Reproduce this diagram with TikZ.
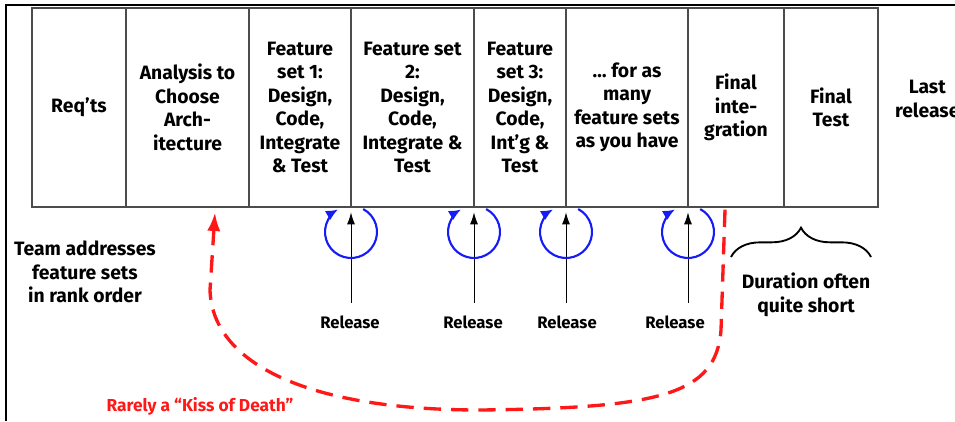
\documentclass[tikz,border=0pt]{standalone}
\usepackage{fontspec}
\setmainfont{Fira Sans}
\usetikzlibrary{positioning,arrows.meta,decorations.pathreplacing}

\definecolor{kissred}{RGB}{255,24,24}
\definecolor{loopblue}{RGB}{22,28,245}

\tikzset{
  every node/.style={font=\bfseries\fontsize{14.5}{17.6}\selectfont, align=center},
  phase/.style={draw=black!70, line width=1pt, minimum height=149.25pt, inner sep=0pt, outer sep=0pt},
  rellabel/.style={font=\bfseries\fontsize{12.5}{15}\selectfont},
  release/.style={-{Latex[length=9pt,width=6pt]}, line width=0.75pt, shorten <=6pt, shorten >=4pt},
  loopback/.style={loopblue, line width=1.6pt, -{Latex[length=9pt,width=8pt]}},
  kiss/.style={kissred, line width=2.5pt, dash pattern=on 13pt off 7.5pt, -{Latex[length=14pt,width=10pt]}}
}

\begin{document}
\begin{tikzpicture}[x=0.75pt, y=0.75pt]
  \useasboundingbox (0,0) rectangle (955,-421);
  \draw[line width=1.6pt] (955,-5) -| (6,-421);

  \node[phase, minimum width=70.5pt, anchor=north west] (reqs) at (32,-8) {Req’ts};
  \node[phase, minimum width=92.25pt, right=0pt of reqs] (arch) {Analysis to\\Choose\\Arch-\\itecture};
  \node[phase, minimum width=76.5pt, right=0pt of arch] (fs1) {Feature\\set 1:\\Design,\\Code,\\Integrate\\\& Test};
  \node[phase, minimum width=92.25pt, right=0pt of fs1] (fs2) {Feature set\\2:\\Design,\\Code,\\Integrate \&\\Test};
  \node[phase, minimum width=69pt, right=0pt of fs2] (fs3) {Feature\\set 3:\\Design,\\Code,\\Int’g \&\\Test};
  \node[phase, minimum width=91.5pt, right=0pt of fs3] (many) {… for as\\many\\feature sets\\as you have};
  \node[phase, minimum width=72pt, right=0pt of many] (fint) {Final\\inte-\\gration};
  \node[phase, minimum width=70.5pt, right=0pt of fint] (ftest) {Final\\Test};
  \node[minimum width=70.5pt, right=0pt of ftest, xshift=1.5pt, yshift=6.4pt] (last) {Last\\release};

  \node (team) at (85,-272) {Team addresses\\feature sets\\in rank order};

  \node[rellabel] (rel1) at (350,-322) {Release};
  \node[rellabel] (rel2) at (473,-322) {Release};
  \node[rellabel] (rel3) at (567,-322) {Release};
  \node[rellabel] (rel4) at (675,-322) {Release};
  \draw[release] (rel1.north -| fs2.south west) -- (fs2.south west);
  \draw[release] (rel2.north -| fs3.south west) -- (fs3.south west);
  \draw[release] (rel3.north -| many.south west) -- (many.south west);
  \draw[release] (rel4.north -| fint.south west) -- (fint.south west);

  \coordinate (loop1) at ([yshift=-18.75pt]fs2.south west);
  \coordinate (loop2) at ([yshift=-18.75pt]fs3.south west);
  \coordinate (loop3) at ([yshift=-18.75pt]many.south west);
  \coordinate (loop4) at ([yshift=-18.75pt]fint.south west);
  \draw[loopback] (loop1) ++(62:19.5pt) arc[start angle=62, end angle=-240, radius=19.5pt];
  \draw[loopback] (loop2) ++(62:19.5pt) arc[start angle=62, end angle=-240, radius=19.5pt];
  \draw[loopback] (loop3) ++(62:19.5pt) arc[start angle=62, end angle=-240, radius=19.5pt];
  \draw[loopback] (loop4) ++(62:19.5pt) arc[start angle=62, end angle=-240, radius=19.5pt];

  \draw[line width=1.4pt, decorate, decoration={brace, amplitude=22pt}] (731,-257) -- (871,-257);
  \node (short) at (806,-295) {Duration often\\quite short};

  \coordinate (kiss out) at ([xshift=27.75pt]fint.south west);
  \coordinate (kiss in) at ([xshift=-25.5pt]arch.south east);
  \draw[kiss] ([yshift=-2pt]kiss out) -- (721,-330) .. controls (716,-395) and (660,-408) .. (480,-410)
    .. controls (300,-410) and (212,-360) .. (210,-290) -- ([yshift=-4pt]kiss in);
  \node[text=kissred, font=\bfseries\fontsize{13}{15}\selectfont] (rarely) at (200,-406) {Rarely a “Kiss of Death”};
\end{tikzpicture}
\end{document}
